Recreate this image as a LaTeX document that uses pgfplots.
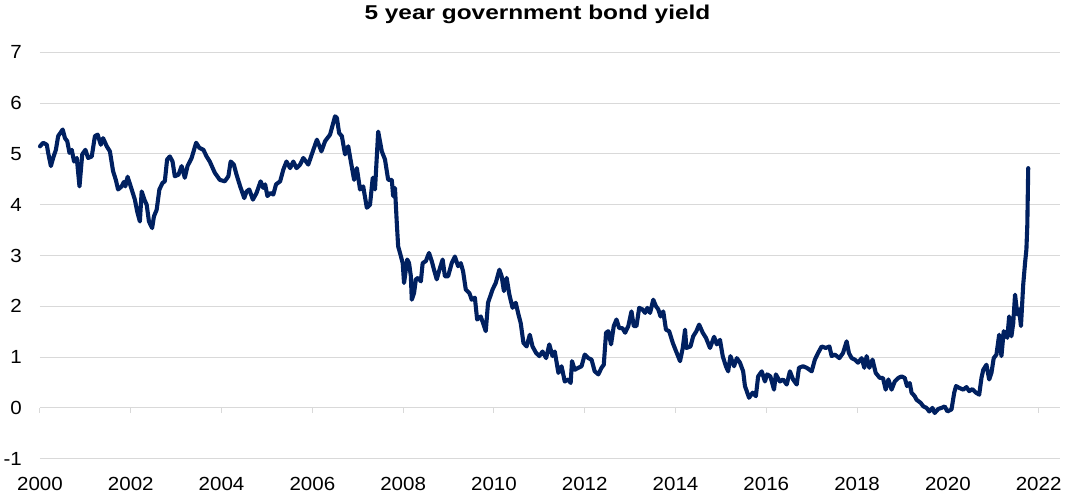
\documentclass[border=0pt]{standalone}
\usepackage{fontspec}
\setmainfont{Liberation Sans}[FakeStretch=1.08]
\newfontfamily\titlefont{Liberation Sans}[FakeStretch=1.22]
\usepackage{pgfplots}
\pgfplotsset{compat=1.18}
\definecolor{navy}{HTML}{002060}
\definecolor{gridgray}{HTML}{D9D9D9}
\begin{document}
\begin{tikzpicture}
% axis carrying the tick marks on the zero line
\begin{axis}[
  at={(0pt,0pt)}, anchor=south west,
  scale only axis, width=1020pt, height=406.4pt,
  xmin=2000, xmax=2022.47, ymin=-1, ymax=7,
  axis x line=middle, axis y line=none,
  x axis line style={-, draw=gridgray, line width=1pt},
  xtick={2000,2002,...,2022}, xticklabels={},
  tick align=outside, major tick length=5pt,
  xtick style={draw=gridgray, line width=1pt},
  ytick=\empty,
  hide obscured x ticks=false,
]
\end{axis}
% main axis
\begin{axis}[
  at={(0pt,0pt)}, anchor=south west,
  scale only axis, width=1020pt, height=406.4pt,
  xmin=2000, xmax=2022.47, ymin=-1, ymax=7,
  axis line style={draw=none},
  xtick={2000,2002,...,2022},
  xticklabels={2000,2002,2004,2006,2008,2010,2012,2014,2016,2018,2020,2022},
  ytick={-1,0,...,7},
  yticklabels={-1,0,1,2,3,4,5,6,7},
  major tick length=0pt,
  tick style={draw=none},
  ymajorgrids,
  grid style={draw=gridgray, line width=1pt},
  ticklabel style={font=\fontsize{19}{22}\selectfont, text=black},
  xticklabel style={anchor=north, inner sep=0pt, yshift=-18pt},
  yticklabel style={anchor=east, inner sep=0pt, xshift=-18pt},
  title={\titlefont\bfseries\fontsize{20}{24}\selectfont 5 year government bond yield},
  title style={anchor=base, at={(0.4877,1)}, yshift=27.3pt, inner sep=0pt},
  clip=false,
]
\addplot[navy, line width=4.1pt, line join=round, line cap=round] coordinates {
(2000.00,5.15) (2000.07,5.22) (2000.15,5.18) (2000.18,5.02) (2000.24,4.76)
(2000.29,4.92) (2000.35,5.08) (2000.40,5.35) (2000.50,5.48) (2000.55,5.31)
(2000.60,5.25) (2000.65,5.02) (2000.70,5.08) (2000.75,4.85) (2000.81,4.92)
(2000.87,4.36) (2000.93,4.99) (2001.00,5.08) (2001.06,4.92) (2001.14,4.95)
(2001.21,5.35) (2001.27,5.38) (2001.34,5.18) (2001.39,5.31) (2001.47,5.15)
(2001.54,5.05) (2001.61,4.66) (2001.67,4.49) (2001.72,4.30) (2001.80,4.36)
(2001.85,4.45) (2001.88,4.36) (2001.93,4.55) (2002.02,4.30) (2002.09,4.10)
(2002.14,3.87) (2002.20,3.67) (2002.24,4.26) (2002.30,4.10) (2002.35,4.00)
(2002.40,3.67) (2002.47,3.54) (2002.51,3.77) (2002.57,3.90) (2002.63,4.30)
(2002.70,4.43) (2002.75,4.46) (2002.80,4.89) (2002.86,4.95) (2002.92,4.85)
(2002.97,4.56) (2003.05,4.59) (2003.12,4.76) (2003.19,4.53) (2003.25,4.76)
(2003.34,4.92) (2003.44,5.22) (2003.51,5.12) (2003.60,5.08) (2003.67,4.95)
(2003.74,4.85) (2003.85,4.63) (2003.96,4.49) (2004.07,4.46) (2004.15,4.56)
(2004.20,4.85) (2004.27,4.79) (2004.33,4.59) (2004.41,4.36) (2004.50,4.13)
(2004.55,4.26) (2004.61,4.30) (2004.69,4.10) (2004.77,4.23) (2004.86,4.46)
(2004.92,4.33) (2004.96,4.40) (2005.01,4.17) (2005.08,4.23) (2005.14,4.20)
(2005.20,4.40) (2005.29,4.46) (2005.36,4.69) (2005.43,4.85) (2005.51,4.72)
(2005.58,4.85) (2005.65,4.72) (2005.73,4.79) (2005.80,4.92) (2005.91,4.79)
(2006.01,5.05) (2006.10,5.28) (2006.20,5.05) (2006.28,5.25) (2006.39,5.38)
(2006.50,5.74) (2006.54,5.71) (2006.59,5.41) (2006.65,5.35) (2006.72,4.99)
(2006.79,5.15) (2006.84,4.89) (2006.92,4.49) (2006.98,4.72) (2007.05,4.30)
(2007.12,4.36) (2007.20,3.94) (2007.27,4.00) (2007.33,4.53) (2007.38,4.30)
(2007.45,5.44) (2007.53,5.05) (2007.60,4.89) (2007.67,4.49) (2007.75,4.49)
(2007.78,4.17) (2007.82,4.33) (2007.86,3.64) (2007.89,3.18) (2007.94,3.02)
(2007.99,2.85) (2008.02,2.46) (2008.09,2.92) (2008.13,2.85) (2008.17,2.59)
(2008.19,2.13) (2008.24,2.26) (2008.28,2.53) (2008.33,2.56) (2008.39,2.49)
(2008.43,2.85) (2008.50,2.89) (2008.57,3.05) (2008.63,2.89) (2008.68,2.72)
(2008.74,2.53) (2008.80,2.72) (2008.87,2.92) (2008.92,2.59) (2008.99,2.59)
(2009.07,2.85) (2009.14,2.98) (2009.21,2.79) (2009.27,2.85) (2009.32,2.69)
(2009.38,2.33) (2009.46,2.26) (2009.51,2.13) (2009.58,2.17) (2009.63,1.74)
(2009.71,1.80) (2009.76,1.67) (2009.82,1.51) (2009.87,2.07) (2009.97,2.33)
(2010.04,2.46) (2010.12,2.72) (2010.17,2.59) (2010.22,2.30) (2010.28,2.56)
(2010.34,2.23) (2010.41,1.97) (2010.48,2.07) (2010.54,1.84) (2010.59,1.67)
(2010.65,1.28) (2010.72,1.21) (2010.79,1.44) (2010.85,1.21) (2010.93,1.08)
(2011.00,1.02) (2011.07,1.11) (2011.15,0.98) (2011.22,1.25) (2011.29,1.02)
(2011.34,1.11) (2011.42,0.69) (2011.49,0.82) (2011.56,0.52) (2011.64,0.56)
(2011.69,0.49) (2011.72,0.92) (2011.78,0.75) (2011.86,0.79) (2011.93,0.82)
(2012.00,1.05) (2012.08,0.98) (2012.15,0.95) (2012.22,0.72) (2012.30,0.66)
(2012.37,0.79) (2012.42,0.85) (2012.47,1.48) (2012.52,1.51) (2012.58,1.25)
(2012.64,1.61) (2012.70,1.74) (2012.76,1.57) (2012.83,1.57) (2012.89,1.48)
(2012.96,1.61) (2013.03,1.90) (2013.08,1.61) (2013.14,1.61) (2013.20,1.97)
(2013.27,1.94) (2013.33,1.87) (2013.38,1.97) (2013.44,1.87) (2013.51,2.13)
(2013.57,2.00) (2013.62,1.94) (2013.67,1.80) (2013.73,1.90) (2013.79,1.54)
(2013.86,1.51) (2013.94,1.28) (2014.01,1.12) (2014.10,0.92) (2014.16,1.18)
(2014.21,1.54) (2014.24,1.18) (2014.33,1.21) (2014.39,1.41) (2014.46,1.51)
(2014.52,1.64) (2014.60,1.48) (2014.67,1.38) (2014.76,1.18) (2014.85,1.40)
(2014.91,1.25) (2014.98,1.34) (2015.04,1.02) (2015.11,0.82) (2015.16,0.72)
(2015.21,1.02) (2015.29,0.82) (2015.35,0.98) (2015.42,0.89) (2015.49,0.72)
(2015.53,0.43) (2015.62,0.20) (2015.70,0.30) (2015.77,0.23) (2015.82,0.62)
(2015.90,0.72) (2015.97,0.52) (2016.02,0.66) (2016.09,0.62) (2016.17,0.36)
(2016.21,0.66) (2016.30,0.52) (2016.37,0.56) (2016.45,0.46) (2016.52,0.72)
(2016.59,0.56) (2016.67,0.46) (2016.72,0.79) (2016.81,0.82) (2016.89,0.79)
(2017.00,0.72) (2017.07,0.95) (2017.14,1.08) (2017.22,1.21) (2017.31,1.18)
(2017.39,1.21) (2017.44,1.02) (2017.51,1.05) (2017.61,0.98) (2017.69,1.08)
(2017.77,1.31) (2017.82,1.08) (2017.88,0.98) (2017.95,0.95) (2018.02,0.89)
(2018.10,0.98) (2018.16,0.79) (2018.21,1.02) (2018.27,0.79) (2018.34,0.95)
(2018.41,0.69) (2018.50,0.59) (2018.57,0.59) (2018.63,0.36) (2018.69,0.56)
(2018.76,0.36) (2018.83,0.52) (2018.91,0.59) (2018.98,0.62) (2019.05,0.59)
(2019.10,0.43) (2019.16,0.49) (2019.20,0.30) (2019.27,0.23) (2019.31,0.16)
(2019.40,0.10) (2019.46,0.03) (2019.53,0.00) (2019.59,-0.07) (2019.66,0.00)
(2019.71,-0.10) (2019.79,-0.02) (2019.86,0.00) (2019.93,0.03) (2019.99,-0.07)
(2020.08,-0.03) (2020.14,0.30) (2020.18,0.43) (2020.26,0.39) (2020.34,0.36)
(2020.41,0.41) (2020.47,0.33) (2020.54,0.37) (2020.62,0.30) (2020.69,0.26)
(2020.74,0.59) (2020.78,0.75) (2020.85,0.85) (2020.91,0.56) (2020.96,0.69)
(2021.01,0.98) (2021.07,1.05) (2021.13,1.44) (2021.18,1.02) (2021.23,1.51)
(2021.31,1.38) (2021.35,1.80) (2021.40,1.41) (2021.44,1.67) (2021.48,2.23)
(2021.53,1.84) (2021.57,1.94) (2021.61,1.61) (2021.66,2.43) (2021.70,2.85)
(2021.73,3.12) (2021.75,3.60) (2021.77,4.72)
};
\end{axis}
\pgfresetboundingbox
\path (-40pt,-40.3pt) rectangle (1035pt,458.7pt);
\end{tikzpicture}
\end{document}
